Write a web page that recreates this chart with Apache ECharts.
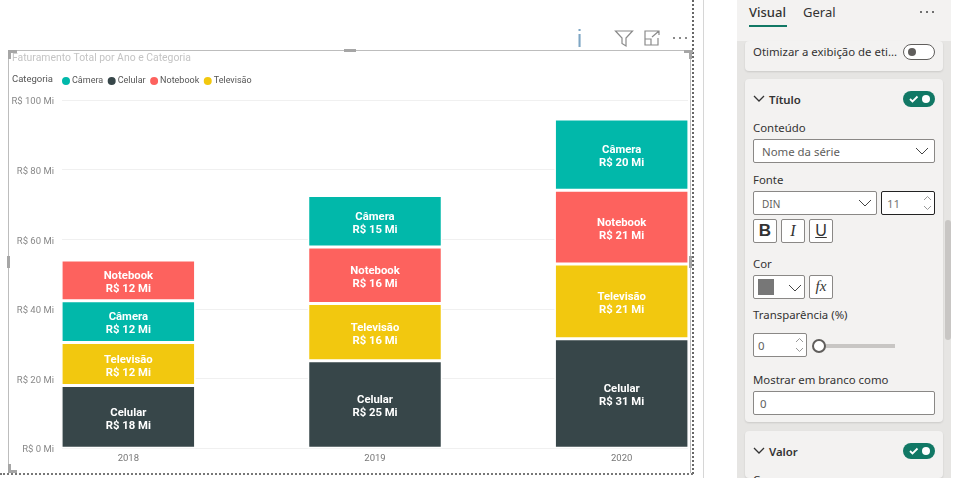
<!DOCTYPE html>
<html>
<head>
<meta charset="utf-8">
<script src="https://cdn.jsdelivr.net/npm/echarts@6/dist/echarts.min.js"></script>
<style>
  html, body { margin: 0; padding: 0; background: #fff; overflow: hidden; }
  body { width: 957px; height: 478px; position: relative; font-family: "Noto Sans", sans-serif; color: #333; }
  #chart { position: absolute; left: 0; top: 0; width: 957px; height: 478px; }
  .a { position: absolute; box-sizing: border-box; white-space: nowrap; }
  .t { font-size: 11.4px; line-height: 16px; color: #333; }
  .box { background: #fff; border: 1px solid #8a8886; border-radius: 2px; }
  .card { background: #f3f2f1; border-radius: 4px; box-shadow: 0 1px 2px rgba(0,0,0,.12); }
  .toggle { width: 32px; height: 16px; border-radius: 8px; background: #117865; }
  .handle { background: #a6a6a6; }
</style>
</head>
<body>
<div id="chart"></div>

<!-- moldura do visual -->
<div class="a" style="left:8px;top:50px;width:683px;height:423px;border:1px solid #bdbdbd;border-bottom:0"></div>
<div class="a" style="left:692px;top:0;height:474px;border-left:2px dotted #666"></div>
<div class="a" style="left:0;top:473px;width:693px;border-top:2px dotted #777"></div>
<div class="a" style="left:703px;top:0;height:478px;border-left:1px solid #d6d6d6"></div>
<div class="a handle" style="left:344px;top:49px;width:12px;height:3px"></div>
<div class="a handle" style="left:7px;top:256px;width:3px;height:12px"></div>
<div class="a handle" style="left:689px;top:256px;width:3px;height:12px"></div>
<div class="a handle" style="left:8px;top:50px;width:9px;height:3px"></div>
<div class="a handle" style="left:8px;top:50px;width:3px;height:9px"></div>
<div class="a handle" style="left:684px;top:50px;width:9px;height:3px"></div>
<div class="a handle" style="left:689px;top:50px;width:3px;height:9px"></div>
<div class="a handle" style="left:8px;top:464px;width:3px;height:9px"></div>
<div class="a handle" style="left:8px;top:470px;width:9px;height:3px"></div>

<!-- cabecalho do visual -->
<div class="a" style="left:577px;top:27px;font:400 23px 'Liberation Sans';color:#7ea6c4;line-height:24px">i</div>
<svg class="a" style="left:612px;top:28px" width="80" height="20" fill="none" stroke="#8a8a8a" stroke-width="1.2">
  <path d="M3.5 3h17l-6.5 7v8l-4-2.5v-5.500z"/>
  <path d="M45 3h-12v14h13v-7M33 11h6v6M40 9l7-6M43 3h4v4"/>
  <path d="M61 10h2M67 10h2M73 10h2" stroke-width="2"/>
</svg>

<!-- painel de formato -->
<div class="a" style="left:737px;top:0;width:214px;height:478px;background:#e6e5e3"></div>
<div class="a" style="left:737px;top:0;width:214px;height:41px;background:#f3f2f1"></div>
<div class="a t" style="left:749px;top:4px;font-size:13px;line-height:17px;font-weight:500">Visual</div>
<div class="a" style="left:749px;top:25px;width:38px;height:2px;background:#117865"></div>
<div class="a t" style="left:803px;top:4px;font-size:13px;line-height:17px">Geral</div>
<svg class="a" style="left:919px;top:10px" width="16" height="4"><path d="M1 2h2M7 2h2M13 2h2" stroke="#444" stroke-width="1.500"/></svg>

<div class="a card" style="left:745px;top:41px;width:198px;height:30px"></div>
<div class="a t" style="left:753px;top:44px">Otimizar a exibição de eti...</div>
<div class="a" style="left:903px;top:44px;width:32px;height:16px;border-radius:8px;background:#fff;border:1px solid #605e5c"></div>
<div class="a" style="left:908px;top:48px;width:8px;height:8px;border-radius:4px;background:#605e5c"></div>

<div class="a card" style="left:745px;top:79px;width:198px;height:343px"></div>
<svg class="a" style="left:753px;top:94px" width="12" height="10" fill="none" stroke="#333" stroke-width="1.300"><path d="M1 2l5 5 5-5"/></svg>
<div class="a t" style="left:769px;top:92px;font-weight:600">Título</div>
<div class="a toggle" style="left:903px;top:91px"></div>
<svg class="a" style="left:903px;top:91px" width="32" height="16"><path d="M7 8l2.500 2.500 5-5" fill="none" stroke="#fff" stroke-width="1.800"/><circle cx="23" cy="8" r="4" fill="#fff"/></svg>

<div class="a t" style="left:753px;top:120px">Conteúdo</div>
<div class="a box" style="left:753px;top:139px;width:182px;height:24px"></div>
<div class="a t" style="left:762px;top:144px;color:#605e5c">Nome da série</div>
<svg class="a" style="left:915px;top:146px" width="14" height="10" fill="none" stroke="#444" stroke-width="1"><path d="M1 2l6 6 6-6"/></svg>

<div class="a t" style="left:753px;top:172px">Fonte</div>
<div class="a box" style="left:753px;top:191px;width:124px;height:24px"></div>
<div class="a t" style="left:762px;top:196px;font-size:10px;color:#605e5c">DIN</div>
<svg class="a" style="left:858px;top:198px" width="14" height="10" fill="none" stroke="#444" stroke-width="1"><path d="M1 2l6 6 6-6"/></svg>
<div class="a box" style="left:881px;top:191px;width:54px;height:24px;border-color:#222"></div>
<div class="a t" style="left:887px;top:196px;color:#777">11</div>
<svg class="a" style="left:923px;top:194px" width="9" height="18" fill="none" stroke="#999" stroke-width="1"><path d="M1 6l3.500-3.500 3.500 3.500M1 12l3.500 3.500 3.500-3.500"/></svg>

<div class="a box" style="left:753px;top:219px;width:24px;height:24px;text-align:center;font:700 17px/22px 'Liberation Sans';color:#333">B</div>
<div class="a box" style="left:781px;top:219px;width:24px;height:24px;text-align:center;font:italic 400 16px/22px 'Liberation Serif';color:#333">I</div>
<div class="a box" style="left:809px;top:219px;width:24px;height:24px;text-align:center;font:400 16px/22px 'Liberation Sans';color:#333;text-decoration:underline">U</div>

<div class="a t" style="left:753px;top:256px">Cor</div>
<div class="a box" style="left:753px;top:275px;width:52px;height:24px"></div>
<div class="a" style="left:758px;top:279px;width:16px;height:16px;background:#777"></div>
<svg class="a" style="left:788px;top:283px" width="14" height="10" fill="none" stroke="#444" stroke-width="1"><path d="M1 2l6 6 6-6"/></svg>
<div class="a box" style="left:809px;top:275px;width:24px;height:24px;text-align:center;font:italic 400 15px/21px 'Liberation Serif';color:#333">fx</div>

<div class="a t" style="left:753px;top:307px">Transparência (%)</div>
<div class="a box" style="left:753px;top:333px;width:54px;height:24px"></div>
<div class="a t" style="left:758px;top:338px;color:#605e5c">0</div>
<svg class="a" style="left:795px;top:336px" width="9" height="18" fill="none" stroke="#999" stroke-width="1"><path d="M1 6l3.500-3.500 3.500 3.500M1 12l3.500 3.500 3.500-3.500"/></svg>
<div class="a" style="left:818px;top:344px;width:77px;height:4px;background:#c8c6c4"></div>
<div class="a" style="left:812px;top:339px;width:14px;height:14px;border-radius:7px;background:#fff;border:2px solid #605e5c"></div>

<div class="a t" style="left:753px;top:372px">Mostrar em branco como</div>
<div class="a box" style="left:753px;top:391px;width:182px;height:24px"></div>
<div class="a t" style="left:760px;top:396px;color:#605e5c">0</div>

<div class="a card" style="left:745px;top:431px;width:198px;height:47px"></div>
<svg class="a" style="left:753px;top:446px" width="12" height="10" fill="none" stroke="#333" stroke-width="1.300"><path d="M1 2l5 5 5-5"/></svg>
<div class="a t" style="left:769px;top:444px;font-weight:600">Valor</div>
<div class="a toggle" style="left:903px;top:443px"></div>
<svg class="a" style="left:903px;top:443px" width="32" height="16"><path d="M7 8l2.500 2.500 5-5" fill="none" stroke="#fff" stroke-width="1.800"/><circle cx="23" cy="8" r="4" fill="#fff"/></svg>
<div class="a t" style="left:753px;top:472px">C</div>

<div class="a" style="left:945px;top:220px;width:6px;height:120px;border-radius:3px;background:#c8c6c4"></div>

<script>
const anos = ['2018', '2019', '2020'];
const categorias = ['Câmera', 'Celular', 'Notebook', 'Televisão'];
const cores = ['#01B8AA', '#374649', '#FD625E', '#F2C80F'];
const yTicks = {min: 0, max: 100, interval: 20};

// valores em milhoes
const celular = [18, 25.1, 31.4];
const televisao = [12.3, 16.4, 21.4];
const notebook = [11.7, 16.2, 21.2];
const camera = [12, 14.8, 20.4];
// em 2018 a Camera fica abaixo do Notebook, nos outros anos acima
const cameraAbaixo = [camera[0], null, null];
const cameraAcima = [null, camera[1], camera[2]];

const fonte = 'Roboto, sans-serif';

function serie(nome, valores, cor) {
  return {
    name: nome,
    type: 'bar',
    stack: 'total',
    xAxisIndex: 1,
    yAxisIndex: 1,
    barWidth: 134.5,
    data: valores,
    itemStyle: {color: cor, borderColor: '#fff', borderWidth: 1.5},
    label: {
      show: true,
      position: 'inside',
      offset: [0, 2.500],
      color: '#fff',
      fontFamily: 'Roboto',
      fontWeight: 'bold',
      fontSize: 11.3,
      lineHeight: 13,
      formatter: p => p.seriesName + '\nR$ ' + Math.round(p.value) + ' Mi',
    },
  };
}

const chart = echarts.init(document.getElementById('chart'));
chart.setOption({
  animation: false,
  color: cores,
  title: {
    text: 'Faturamento Total por Ano e Categoria',
    left: 12,
    top: 53,
    padding: 0,
    textStyle: {color: '#c4c4c4', fontSize: 10.4, fontWeight: 'normal', fontFamily: fonte},
  },
  legend: {
    data: categorias,
    left: 60,
    top: 75,
    padding: 0,
    icon: 'circle',
    itemWidth: 10,
    itemHeight: 10,
    itemGap: 2.500,
    textStyle: {color: '#555', fontSize: 9, fontFamily: fonte, padding: [0, 0, 0, -4]},
  },
  graphic: [{
    type: 'text',
    left: 12,
    top: 75,
    style: {text: 'Categoria', fill: '#555', fontSize: 9.5, fontFamily: fonte},
  }],
  // a primeira grade so desenha as linhas do eixo Y, a segunda posiciona as colunas
  grid: [
    {left: 62, width: 626, top: 100, height: 348},
    {left: 5, width: 740, top: 99.5, height: 348.75},
  ],
  xAxis: [
    {gridIndex: 0, type: 'value', min: 0, max: 1, show: false},
    {
      gridIndex: 1,
      type: 'category',
      data: anos,
      axisLine: {show: false},
      axisTick: {show: false},
      axisLabel: {color: '#777', fontSize: 9.5, fontFamily: fonte, margin: 5},
    },
  ],
  yAxis: [
    {
      gridIndex: 0,
      type: 'value',
      min: yTicks.min,
      max: yTicks.max,
      interval: yTicks.interval,
      axisLine: {show: false},
      axisTick: {show: false},
      axisLabel: {
        margin: 8,
        formatter: v => '{v|R$ ' + v + ' Mi}',
        rich: {v: {color: '#888', fontSize: 9.5, fontFamily: fonte, padding: [4, 0, 0, 0]}},
      },
      splitLine: {lineStyle: {color: '#f0f0f0'}},
    },
    {gridIndex: 1, type: 'value', min: yTicks.min, max: yTicks.max, show: false},
  ],
  series: [
    serie('Celular', celular, cores[1]),
    serie('Televisão', televisao, cores[3]),
    serie('Câmera', cameraAbaixo, cores[0]),
    serie('Notebook', notebook, cores[2]),
    serie('Câmera', cameraAcima, cores[0]),
  ],
});
</script>
</body>
</html>
